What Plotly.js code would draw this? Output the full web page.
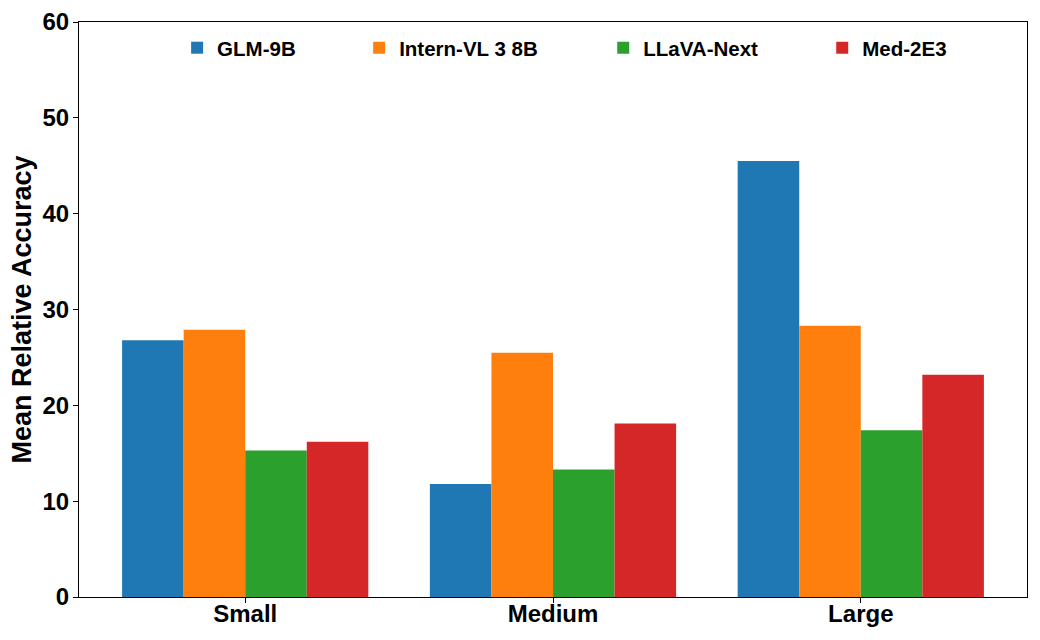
<!DOCTYPE html>
<html>
<head>
<meta charset="utf-8">
<script src="https://cdn.plot.ly/plotly-3.0.1.min.js"></script>
<style>
  html, body {margin: 0; padding: 0; background: #fff;}
</style>
</head>
<body>
<div id="chart" style="width:1040px;height:640px;"></div>
<script>

// data
var sizes = ['Small', 'Medium', 'Large']
var models = ['GLM-9B', 'Intern-VL 3 8B', 'LLaVA-Next', 'Med-2E3']
var glm9b     = [26.8, 11.8, 45.5]
var internVL  = [27.9, 25.5, 28.3]
var llavaNext = [15.3, 13.3, 17.4]
var med2e3    = [16.2, 18.1, 23.2]
var colors = ['#1f77b4', '#ff7f0e', '#2ca02c', '#d62728']

var FONT = 'Liberation Sans, Arial, sans-serif'

var series = [glm9b, internVL, llavaNext, med2e3]
// one legend per model so the entries can be spaced like the original
var legendX = [0.1035, 0.2955, 0.553, 0.784]
var legendIds = ['legend', 'legend2', 'legend3', 'legend4']

var data = []
for (var i = 0; i < models.length; i++) {
    data.push({
        type: 'bar',
        name: models[i],
        x: sizes,
        y: series[i],
        marker: {color: colors[i], line: {width: 0}},
        legend: legendIds[i],
        hoverinfo: 'x+y+name',
    })
}

var layout = {
    width: 1040,
    height: 640,
    paper_bgcolor: '#fff',
    plot_bgcolor: '#fff',
    margin: {l: 79, r: 13, t: 22, b: 43},
    barmode: 'group',
    bargap: 0.2,
    bargroupgap: 0,
    font: {family: FONT, color: '#000'},
    xaxis: {
        type: 'category',
        range: [-0.54, 2.54],
        showgrid: false,
        zeroline: false,
        showline: true,
        mirror: true,
        linecolor: '#000',
        linewidth: 1,
        ticks: 'outside',
        ticklen: 5,
        tickwidth: 1,
        tickcolor: '#000',
        ticklabelstandoff: -10,
        tickfont: {family: FONT, size: 24, weight: 'bold', color: '#000'},
        fixedrange: true,
    },
    yaxis: {
        range: [0, 60],
        dtick: 10,
        showgrid: false,
        zeroline: false,
        showline: true,
        mirror: true,
        linecolor: '#000',
        linewidth: 1,
        ticks: 'outside',
        ticklen: 5,
        tickwidth: 1,
        tickcolor: '#000',
        ticklabelstandoff: -1,
        tickfont: {family: FONT, size: 24, weight: 'bold', color: '#000'},
        title: {
            text: 'Mean Relative Accuracy',
            font: {family: FONT, size: 27, weight: 'bold', color: '#000'},
            standoff: 3,
        },
        fixedrange: true,
    },
    showlegend: true,
}

for (var i = 0; i < legendIds.length; i++) {
    layout[legendIds[i]] = {
        x: legendX[i],
        xanchor: 'left',
        y: 0.955,
        yanchor: 'middle',
        orientation: 'h',
        bgcolor: 'rgba(0,0,0,0)',
        borderwidth: 0,
        font: {family: FONT, size: 20.5, weight: 'bold', color: '#000'},
    }
}

Plotly.newPlot('chart', data, layout, {displayModeBar: false, staticPlot: true})
</script>
</body>
</html>
